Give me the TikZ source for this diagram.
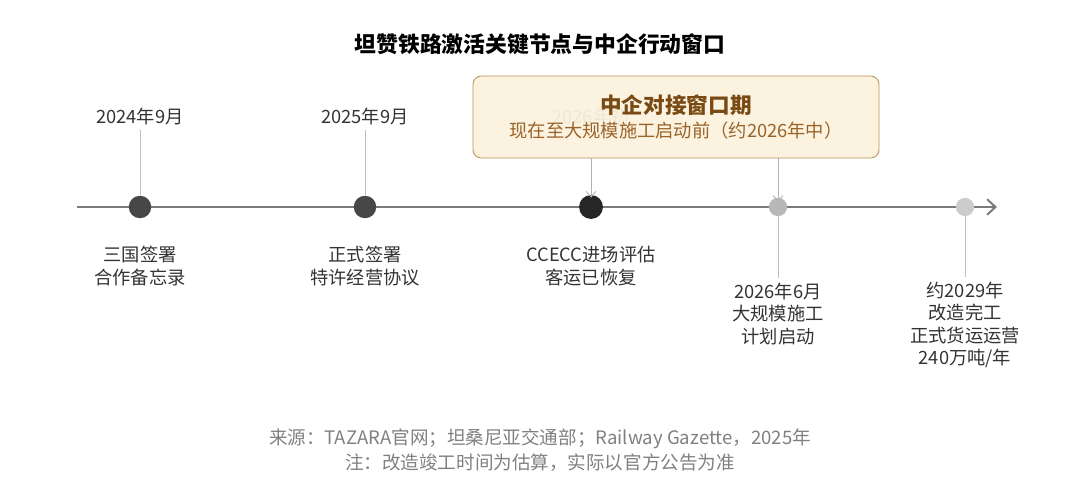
\documentclass[tikz,border=0pt]{standalone}
\usepackage{fontspec}
\setmainfont{Noto Sans CJK SC}
\usetikzlibrary{arrows.meta}
\definecolor{axisgray}{HTML}{7A7A7A}
\definecolor{boxfill}{HTML}{FAF0DC}
\definecolor{boxdraw}{HTML}{B8925A}
\definecolor{boxtext}{HTML}{7A4A14}
\definecolor{boxsub}{HTML}{9A6428}
\tikzset{
  lbl/.style={font=\fontsize{13pt}{16pt}\selectfont, text=black!80, align=center},
  evt/.style={circle, inner sep=0pt, minimum size=#1},
  tick/.style={draw=black!25, line width=0.6pt},
  pointer/.style={draw=black!30, line width=0.6pt, -{Straight Barb[length=4pt,width=7pt]}}
}
\begin{document}
\begin{tikzpicture}[x=0.025cm,y=-0.025cm]
    \useasboundingbox (0,0) rectangle (1080,492);
    \node at (540,44) [font=\fontsize{15.5pt}{18pt}\selectfont\bfseries] (title) {坦赞铁路激活关键节点与中企行动窗口};

    % axis
    \coordinate (axstart) at (77,207);
    \coordinate (axend) at (997,207);
    \draw[axisgray, line width=1.4pt, -{Straight Barb[length=6pt,width=11pt]}] (axstart) -- (axend);

    % events
    \node at (140,207) [evt=16pt, fill=black!72] (e1) {};
    \node at (365,207) [evt=16pt, fill=black!72] (e2) {};
    \node at (591,207) [evt=17pt, fill=black!85] (e3) {};
    \node at (778,207) [evt=13pt, fill=black!28] (e4) {};
    \node at (965,207) [evt=13pt, fill=black!20] (e5) {};

    % labels above
    \node at (140,117) [lbl] (d1) {2024年9月};
    \node at (365,117) [lbl] (d2) {2025年9月};
    \node at (591,117) [lbl, text=black!35] (d3) {2026年初};
    \draw[tick] (d1.south) -- (e1);
    \draw[tick] (d2.south) -- (e2);

    % labels below
    \node at (140,266) [lbl] (t1) {三国签署\\合作备忘录};
    \node at (365,266) [lbl] (t2) {正式签署\\特许经营协议};
    \node at (591,266) [lbl] (t3) {CCECC进场评估\\客运已恢复};
    \node at (778,314) [lbl] (t4) {2026年6月\\大规模施工\\计划启动};
    \node at (965,325) [lbl] (t5) {约2029年\\改造完工\\正式货运运营\\240万吨/年};
    \draw[tick] (e4) -- (t4.north);
    \draw[tick] (e5) -- (t5.north);

    % window box
    \node at (676,117) [draw=boxdraw, fill=boxfill, fill opacity=0.88, text opacity=1,
        rounded corners=6pt, minimum width=10.15cm, minimum height=2.05cm,
        align=center, line width=0.6pt] (window)
        {{\fontsize{15.4pt}{17pt}\selectfont\bfseries\color{boxtext}中企对接窗口期}\\[4pt]
         {\fontsize{13pt}{15pt}\selectfont\color{boxsub}现在至大规模施工启动前（约2026年中）}};
    \draw[pointer] (window.south -| e3) -- ([yshift=-2pt]e3.north);
    \draw[pointer] (window.south -| e4) -- ([yshift=-3pt]e4.north);

    % source
    \node at (540,450) [lbl, text=black!50, font=\fontsize{13.2pt}{18pt}\selectfont] (src)
        {来源：TAZARA官网；坦桑尼亚交通部；Railway Gazette，2025年\\注：改造竣工时间为估算，实际以官方公告为准};
\end{tikzpicture}
\end{document}
